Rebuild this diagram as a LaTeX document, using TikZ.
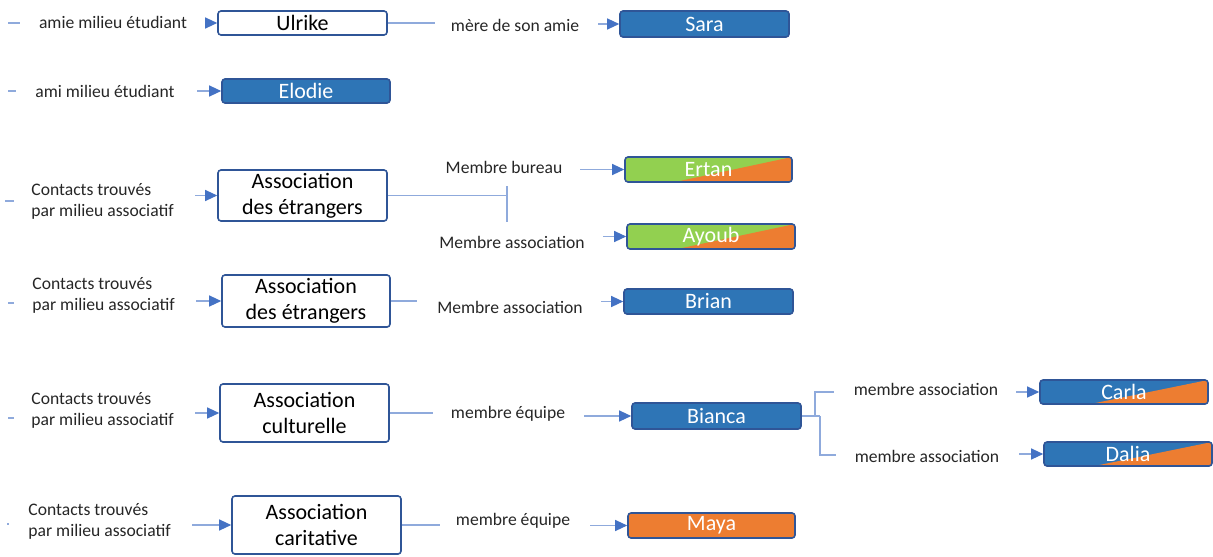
\documentclass[tikz,border=0pt]{standalone}
\usepackage{fontspec}
\setmainfont{Carlito}
\usetikzlibrary{arrows.meta,calc}
\definecolor{myblue}{HTML}{2E75B6}
\definecolor{bborder}{HTML}{2F5597}
\definecolor{lineblue}{HTML}{8FAADC}
\definecolor{arrowblue}{HTML}{4472C4}
\definecolor{mygreen}{HTML}{92D050}
\definecolor{myorange}{HTML}{ED7D31}
\tikzset{
 basebox/.style={draw=bborder, line width=0.8pt, rounded corners=1.5pt, inner sep=0pt, align=center, font=\fontsize{11}{13}\selectfont},
 wbox/.style={basebox, fill=white, text=black},
 bbox/.style={basebox, fill=myblue, text=white},
 obox/.style={basebox, fill=myorange, text=white},
 splitbox/.style={basebox, fill=#1, text=white, path picture={\fill[myorange] ($(path picture bounding box.south west)!0.3!(path picture bounding box.south east)$) -- (path picture bounding box.north east) -- (path picture bounding box.south east) -- cycle;}},
 lbl/.style={inner sep=0pt, font=\fontsize{8.8}{10.5}\selectfont, text=black!85, align=left},
 conn/.style={draw=lineblue, line width=0.6pt},
 arr/.style={conn, -{Triangle[length=6pt,width=5.5pt,color=arrowblue]}},
}
\begin{document}
\begin{tikzpicture}[x=0.5pt,y=-0.5pt]
\useasboundingbox (0,0) rectangle (1213,556);
% nodes
\node[wbox, minimum width=84.5pt, minimum height=12pt] (ulrike) at (302.5,23) {Ulrike};
\node[bbox, minimum width=84.5pt, minimum height=13pt] (sara) at (704.5,24) {Sara};
\node[bbox, minimum width=84pt, minimum height=12pt] (elodie) at (306,91) {Elodie};
\node[wbox, minimum width=84.5pt, minimum height=25.5pt] (asso1) at (302.5,195.5) {Association\\des étrangers};
\node[splitbox=mygreen, minimum width=83.5pt, minimum height=12.5pt] (ertan) at (708.5,169.5) {Ertan};
\node[splitbox=mygreen, minimum width=84pt, minimum height=12.5pt] (ayoub) at (711,236.5) {Ayoub};
\node[wbox, minimum width=84pt, minimum height=26pt] (asso2) at (306,301) {Association\\des étrangers};
\node[bbox, minimum width=84.5pt, minimum height=12.5pt] (brian) at (708.5,301.5) {Brian};
\node[wbox, minimum width=84.5pt, minimum height=29pt] (asso3) at (304.5,413) {Association\\culturelle};
\node[bbox, minimum width=84.5pt, minimum height=13pt] (bianca) at (716.5,416) {Bianca};
\node[splitbox=myblue, minimum width=84pt, minimum height=12pt] (carla) at (1124,392) {Carla};
\node[splitbox=myblue, minimum width=84pt, minimum height=12pt] (dalia) at (1128,454) {Dalia};
\node[wbox, minimum width=84.5pt, minimum height=29pt] (asso4) at (316.5,525) {Association\\caritative};
\node[obox, minimum width=83.5pt, minimum height=12.5pt] (maya) at (711.5,525.5) {Maya};
% labels
\node[lbl] (l1) at (113,22) {amie milieu étudiant};
\node[lbl] (l2) at (515,25) {mère de son amie};
\node[lbl] (l3) at (105,91) {ami milieu étudiant};
\node[lbl, anchor=west] (l4) at (31,201) {Contacts trouvés\\par milieu associatif};
\node[lbl] (l5) at (504,167) {Membre bureau};
\node[lbl] (l6) at (512,242) {Membre association};
\node[lbl, anchor=west] (l7) at (32,295.5) {Contacts trouvés\\par milieu associatif};
\node[lbl] (l8) at (510,307) {Membre association};
\node[lbl, anchor=west] (l9) at (31,410) {Contacts trouvés\\par milieu associatif};
\node[lbl] (l10) at (508,414) {membre équipe};
\node[lbl] (l11) at (926,389) {membre association};
\node[lbl] (l12) at (927,456) {membre association};
\node[lbl, anchor=west] (l13) at (28,521) {Contacts trouvés\\par milieu associatif};
\node[lbl] (l14) at (513,521) {membre équipe};
% free ends
\coordinate (d1a) at (8,23); \coordinate (d1b) at (20,23);
\coordinate (a1) at (205,23);
\coordinate (e1) at (435,23);
\coordinate (a2) at (598,24);
\coordinate (d2a) at (8,91); \coordinate (d2b) at (16,91);
\coordinate (a3) at (197,91);
\coordinate (d3a) at (5,201); \coordinate (d3b) at (14,201);
\coordinate (a4) at (195,195.5);
\coordinate (j1) at (507,195.5); \coordinate (j1t) at (507,186); \coordinate (j1b) at (507,222);
\coordinate (a5) at (580,169.5);
\coordinate (a6) at (603,236.5);
\coordinate (d4a) at (8,303); \coordinate (d4b) at (14,303);
\coordinate (a7) at (196,301);
\coordinate (e2) at (417,301);
\coordinate (a8) at (601,301.5);
\coordinate (d5a) at (8,418); \coordinate (d5b) at (14,418);
\coordinate (a9) at (195,413);
\coordinate (e3) at (433,413);
\coordinate (a10) at (584,416);
\coordinate (b0) at (820,416);
\coordinate (b1) at (815,416); \coordinate (b1u) at (815,392); \coordinate (b1e) at (834,392);
\coordinate (b2d) at (820,455); \coordinate (b2e) at (836,455);
\coordinate (a11) at (1016,392);
\coordinate (a12) at (1019,454);
\coordinate (d6a) at (7,524); \coordinate (d6b) at (9,524);
\coordinate (a13) at (192,525);
\coordinate (e4) at (440,525);
\coordinate (a14) at (590,525.5);
% connectors
\draw[conn] (d1a) -- (d1b);
\draw[arr] (a1) -- (ulrike.west);
\draw[conn] (ulrike.east) -- (e1);
\draw[arr] (a2) -- (sara.west);
\draw[conn] (d2a) -- (d2b);
\draw[arr] (a3) -- (elodie.west);
\draw[conn] (d3a) -- (d3b);
\draw[arr] (a4) -- (asso1.west);
\draw[conn] (asso1.east) -- (j1);
\draw[conn] (j1t) -- (j1b);
\draw[arr] (a5) -- (ertan.west);
\draw[arr] (a6) -- (ayoub.west);
\draw[conn] (d4a) -- (d4b);
\draw[arr] (a7) -- (asso2.west);
\draw[conn] (asso2.east) -- (e2);
\draw[arr] (a8) -- (brian.west);
\draw[conn] (d5a) -- (d5b);
\draw[arr] (a9) -- (asso3.west);
\draw[conn] (asso3.east) -- (e3);
\draw[arr] (a10) -- (bianca.west);
\draw[conn] (bianca.east) -- (b0);
\draw[conn] (b1) -- (b1u) -- (b1e);
\draw[conn] (b0) -- (b2d) -- (b2e);
\draw[arr] (a11) -- (carla.west);
\draw[arr] (a12) -- (dalia.west);
\draw[conn] (d6a) -- (d6b);
\draw[arr] (a13) -- (asso4.west);
\draw[conn] (asso4.east) -- (e4);
\draw[arr] (a14) -- (maya.west);
\end{tikzpicture}
\end{document}
